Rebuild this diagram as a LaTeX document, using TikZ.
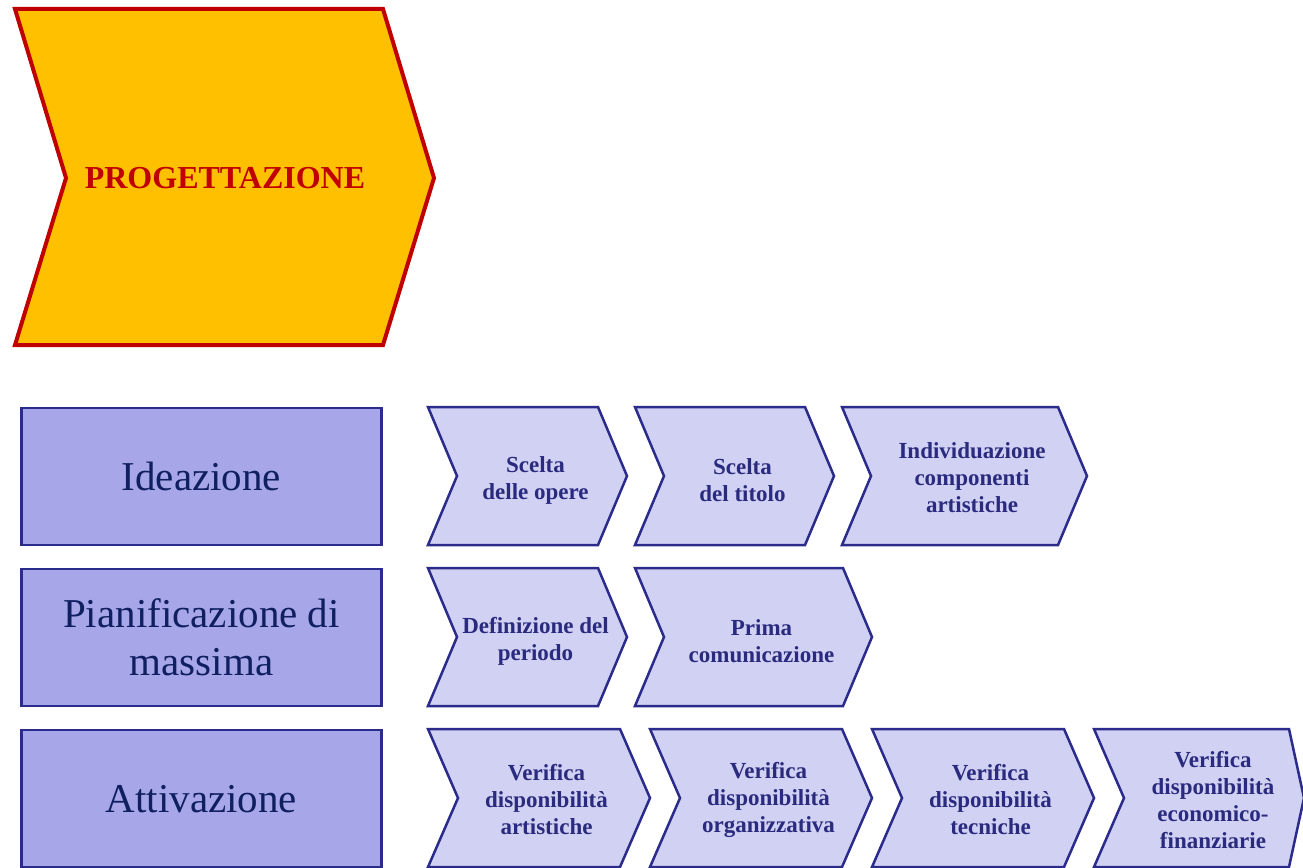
\documentclass[tikz,border=0pt]{standalone}
\usepackage{fontspec}
\setmainfont{Liberation Serif}
\definecolor{progfill}{HTML}{FFC000}
\definecolor{progred}{HTML}{C00000}
\definecolor{boxfill}{HTML}{A6A6E8}
\definecolor{chevfill}{HTML}{D1D1F4}
\definecolor{edgeblue}{HTML}{2B2B8C}
\definecolor{boxtext}{HTML}{0F1F5F}
\definecolor{chevtext}{HTML}{2A2A7E}
\tikzset{
  progshape/.style={draw=progred, fill=progfill, line width=4pt, line join=miter},
  progtext/.style={text=progred, font=\bfseries\fontsize{32}{36}\selectfont, inner sep=0pt},
  leftbox/.style={draw=edgeblue, fill=boxfill, line width=2.5pt, text=boxtext,
    font=\fontsize{41}{48}\selectfont, align=center, inner sep=0pt,
    minimum width=360, minimum height=137},
  chevshape/.style={draw=edgeblue, fill=chevfill, line width=2.5pt, line join=miter},
  chevlabel/.style={text=chevtext, font=\bfseries\fontsize{23}{27}\selectfont,
    align=center, inner sep=0pt, yshift=-1.5pt},
  twoline/.style={yshift=-2.5pt}
}
% #1 name (with options), #2 x0, #3 top width, #4 y top, #5 left notch depth, #6 right tip depth, #7 text x, #8 text
\newcommand\mychev[8]{%
  \draw[chevshape] (#2,#4) -- ++(#3,0) -- ++(#6,69) -- ++(-#6,69) -- ++(-#3,0)
    -- ++(#5,-69) -- cycle;
  \node[chevlabel,#1] at (#7,{#4+69.5}) {#8};
}
\begin{document}
\begin{tikzpicture}[x=1pt,y=-1pt]
\useasboundingbox (0,0) rectangle (1303,867);
% top chevron
\draw[progshape] (15,9) -- (383,9) -- (434,178) -- (383,345) -- (15,345) -- (66,178) -- cycle;
\node[progtext] (prog) at (225,178) {PROGETTAZIONE};
% left boxes
\node[leftbox] (ide) at (201.5,476.5) {Ideazione};
\node[leftbox] (pia) at (201.5,637.5) {Pianificazione di\\massima};
\node[leftbox, text depth=0pt] (att) at (201.5,798.5) {\raisebox{-1.5pt}{Attivazione}};
% row 1
\mychev{name=c11,twoline}{428}{170}{407}{29}{29}{535.5}{Scelta\\delle opere}
\mychev{name=c12,twoline}{635}{170}{407}{29}{29}{742.5}{Scelta\\del titolo}
\mychev{name=c13}{842}{216}{407}{29}{29}{972}{Individuazione\\componenti\\artistiche}
% row 2
\mychev{name=c21,twoline}{428}{170}{568}{29}{29}{535.5}{Definizione del\\periodo}
\mychev{name=c22,twoline}{635}{208}{568}{29}{29}{761.5}{Prima\\comunicazione}
% row 3
\mychev{name=c31}{428}{192}{729}{30}{30}{546.5}{Verifica\\disponibilità\\artistiche}
\mychev{name=c32}{650}{192}{729}{30}{30}{768.5}{Verifica\\disponibilità\\organizzativa}
\mychev{name=c33}{872}{192}{729}{30}{30}{990.5}{Verifica\\disponibilità\\tecniche}
\mychev{name=c34}{1094}{195}{729}{30}{15}{1213}{Verifica\\disponibilità\\economico-\\finanziarie}
\end{tikzpicture}
\end{document}
